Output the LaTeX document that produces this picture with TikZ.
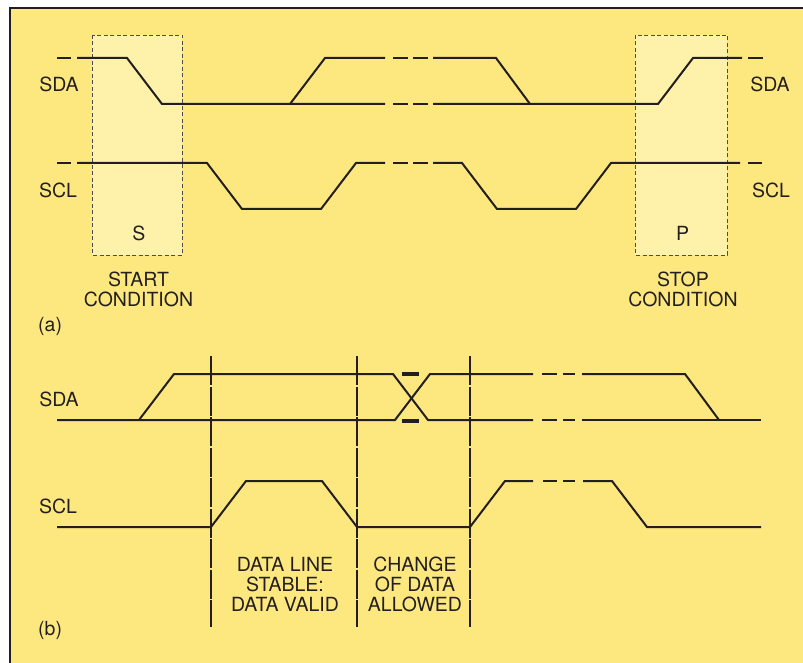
\documentclass[tikz,border=0pt]{standalone}
\usepackage{fontspec}
\setmainfont{TeX Gyre Heros}
\definecolor{bg}{RGB}{253,232,128}
\definecolor{boxfill}{RGB}{254,241,170}
\definecolor{ink}{RGB}{35,31,32}
\begin{document}
\begin{tikzpicture}[x=1pt,y=-1pt,
  sig/.style={draw=ink,line width=2pt,line join=miter},
  condbox/.style={fill=boxfill,draw=ink!80,line width=0.9pt,dash pattern=on 4pt off 2.5pt},
  divider/.style={draw=ink,line width=1.1pt,dash pattern=on 29pt off 1.5pt},
  bar/.style={draw=ink,line width=3.3pt},
  lbl/.style={font=\fontsize{19.5}{20}\selectfont,text=ink,inner sep=0pt,align=center}]
\useasboundingbox (0,0) rectangle (803,663);
% frame
\fill[white] (0,0) rectangle (803,663);
\fill[bg] (10,8) rectangle (803,663);
\draw[ink,line width=1.2pt] (10,663) -- (10,8) -- (803,8);

% ---------- (a) ----------
\draw[condbox] (92,35) rectangle (182,255);
\draw[condbox] (635,35) rectangle (727,255);

% SDA (a)
\draw[sig] (57,58) -- (71,58);
\draw[sig] (77,58) -- (127,58) -- (162,104) -- (385,104);
\draw[sig] (393,104) -- (408,104);
\draw[sig] (413,104) -- (428,104);
\draw[sig] (433,104) -- (658,104) -- (693,58) -- (742,58);
\draw[sig] (748,58) -- (763,58);
\draw[sig] (290,104) -- (325,58) -- (385,58);
\draw[sig] (393,58) -- (408,58);
\draw[sig] (413,58) -- (428,58);
\draw[sig] (433,58) -- (496,58) -- (530,104);

% SCL (a)
\draw[sig] (57,163) -- (71,163);
\draw[sig] (77,163) -- (207,163) -- (242,209) -- (321,209) -- (356,163) -- (385,163);
\draw[sig] (393,163) -- (408,163);
\draw[sig] (413,163) -- (428,163);
\draw[sig] (433,163) -- (462,163) -- (497,209) -- (576,209) -- (611,163) -- (740,163);
\draw[sig] (748,163) -- (762,163);

\node[lbl] (sdaL) at (59,84) {SDA};
\node[lbl] (sclL) at (58,190) {SCL};
\node[lbl] (sdaR) at (770,84) {SDA};
\node[lbl] (sclR) at (771,190) {SCL};
\node[lbl] (S) at (139,233.5) {S};
\node[lbl] (P) at (682.5,233.5) {P};
\node[lbl] (start) at (138.5,289) {START\\CONDITION};
\node[lbl] (stop) at (683,289) {STOP\\CONDITION};
\node[lbl,anchor=base west] (a) at (38,331) {(a)};

% ---------- (b) ----------
\draw[divider] (211,356) -- (211,627);
\draw[divider] (357,356) -- (357,627);
\draw[divider] (470,356) -- (470,627);

% SDA (b)
\draw[sig] (57,420) -- (395,420) -- (430,374) -- (533,374);
\draw[sig] (139,420) -- (174,374) -- (393,374) -- (428,420) -- (533,420);
\draw[sig] (542,374) -- (557,374);
\draw[sig] (563,374) -- (575,374);
\draw[sig] (542,420) -- (557,420);
\draw[sig] (563,420) -- (575,420);
\draw[sig] (582,374) -- (685,374) -- (719,420);
\draw[sig] (582,420) -- (761,420);
\draw[bar] (402,374) -- (419,374);
\draw[bar] (402,421) -- (419,421);

% SCL (b)
\draw[sig] (57,527) -- (211,527) -- (246,481) -- (322,481) -- (357,527) -- (470,527) -- (505,481) -- (533,481);
\draw[sig] (543,481) -- (557,481);
\draw[sig] (563,481) -- (575,481);
\draw[sig] (583,481) -- (612,481) -- (647,527) -- (761,527);

\node[lbl] (sdaB) at (59,399) {SDA};
\node[lbl] (sclB) at (58,506) {SCL};
\node[lbl] (stable) at (285,584) {DATA LINE\\STABLE:\\DATA VALID};
\node[lbl] (change) at (415,584) {CHANGE\\OF DATA\\ALLOWED};
\node[lbl,anchor=base west] (b) at (38,635) {(b)};
\end{tikzpicture}
\end{document}
